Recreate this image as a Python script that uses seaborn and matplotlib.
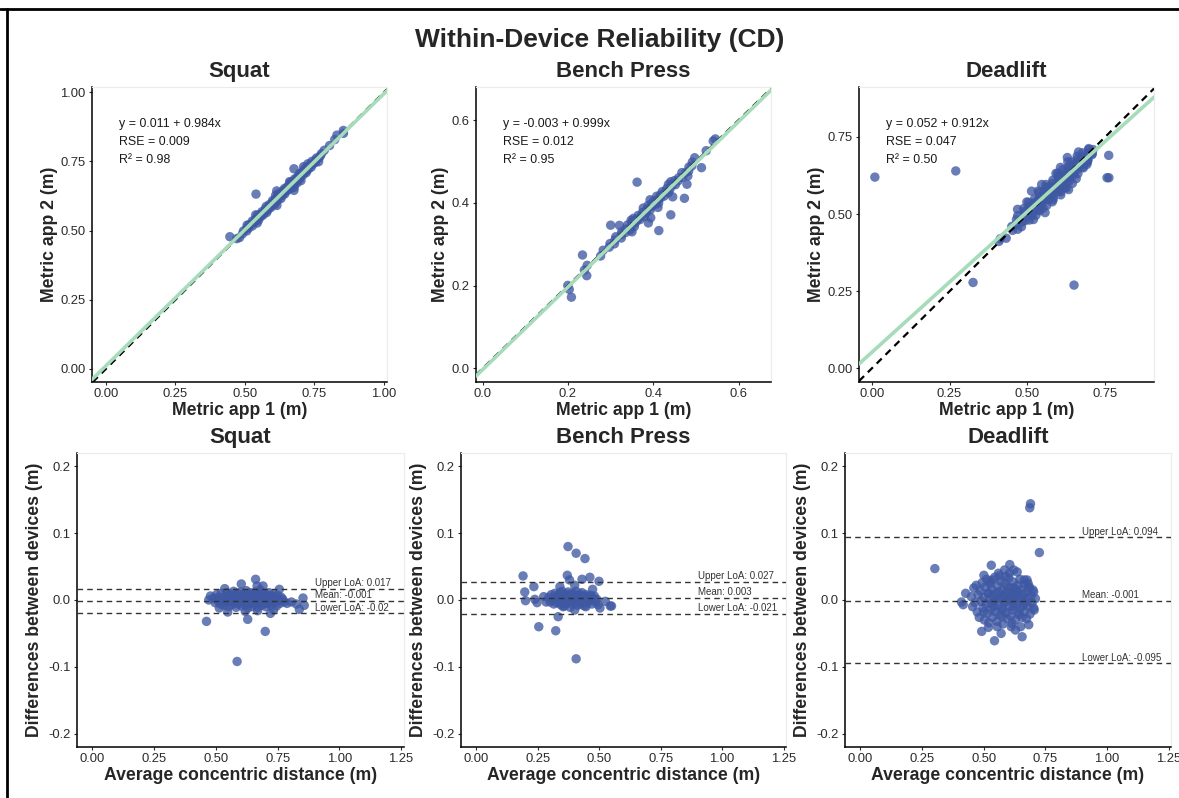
import matplotlib
matplotlib.use("Agg")
import matplotlib.pyplot as plt
from matplotlib.lines import Line2D
import seaborn as sns
import pandas as pd

exercises = ["Squat", "Bench Press", "Deadlift"]

# Bland-Altman coordinates:
# avg = (app1 + app2) / 2, diff = app1 - app2
squat_avg = [
    0.462, 0.471, 0.478, 0.514, 0.536, 0.548, 0.586, 0.603, 0.619, 0.629,
    0.661, 0.667, 0.669, 0.691, 0.700, 0.721, 0.734, 0.757, 0.788, 0.806,
    0.826, 0.838, 0.853, 0.858,
    0.490, 0.497, 0.503, 0.508, 0.512, 0.518, 0.522, 0.526, 0.531, 0.535,
    0.540, 0.544, 0.547, 0.551, 0.554, 0.558, 0.561, 0.565, 0.568, 0.572,
    0.575, 0.578, 0.582, 0.585, 0.588, 0.591, 0.594, 0.598, 0.601, 0.604,
    0.607, 0.610, 0.613, 0.616, 0.620, 0.623, 0.626, 0.629, 0.632, 0.635,
    0.638, 0.641, 0.644, 0.647, 0.650, 0.653, 0.656, 0.659, 0.662, 0.665,
    0.668, 0.671, 0.674, 0.677, 0.680, 0.683, 0.686, 0.689, 0.692, 0.695,
    0.698, 0.702, 0.705, 0.708, 0.712, 0.715, 0.719, 0.722, 0.726, 0.730,
    0.734, 0.738, 0.742, 0.746, 0.750, 0.755, 0.760, 0.765, 0.771, 0.777,
    0.560, 0.580, 0.600, 0.615, 0.625, 0.640, 0.655, 0.665, 0.675, 0.685,
    0.695, 0.705, 0.715, 0.630, 0.645, 0.590, 0.610, 0.670, 0.700, 0.720,
]
squat_diff = [
    -0.032, 0.000, 0.006, -0.012, 0.017, -0.018, -0.092, 0.024, -0.017, -0.029,
    0.031, 0.021, -0.016, 0.021, -0.047, -0.020, -0.015, 0.016, -0.005, -0.003,
    -0.006, -0.014, 0.003, -0.008,
    0.003, -0.004, 0.008, -0.001, 0.004, -0.006, 0.010, 0.001, -0.008, 0.005,
    -0.003, 0.011, 0.002, -0.010, 0.006, -0.002, 0.009, -0.007, 0.003, 0.013,
    -0.004, 0.007, -0.011, 0.001, 0.010, -0.006, 0.004, -0.001, 0.012, -0.009,
    0.006, -0.003, 0.009, 0.000, -0.007, 0.014, 0.003, -0.012, 0.007, -0.002,
    0.011, -0.005, 0.004, -0.010, 0.008, 0.001, -0.006, 0.012, -0.002, 0.006,
    -0.011, 0.009, 0.002, -0.004, 0.015, -0.008, 0.005, -0.001, 0.010, -0.006,
    0.003, -0.010, 0.008, 0.000, -0.005, 0.011, 0.002, -0.008, 0.006, -0.002,
    0.009, -0.004, 0.004, -0.009, 0.007, 0.000, -0.005, 0.004, 0.001, -0.003,
    0.002, 0.004, 0.001, 0.005, -0.004, 0.002, 0.004, -0.003, 0.007, 0.001,
    0.004, -0.003, 0.003, 0.001, -0.001, 0.003, -0.001, 0.000, 0.002, 0.005,
]

bench_avg = [
    0.373, 0.406, 0.442, 0.190, 0.370, 0.462, 0.499, 0.430, 0.379, 0.234,
    0.197, 0.200, 0.238, 0.247, 0.274, 0.284, 0.254, 0.323, 0.333, 0.406,
    0.525, 0.545, 0.550, 0.503, 0.473, 0.340, 0.400, 0.400, 0.353, 0.446,
    0.295, 0.300, 0.305, 0.310, 0.315, 0.320, 0.324, 0.328, 0.332, 0.336,
    0.340, 0.343, 0.346, 0.349, 0.352, 0.355, 0.358, 0.361, 0.364, 0.367,
    0.370, 0.373, 0.376, 0.379, 0.382, 0.385, 0.388, 0.391, 0.394, 0.397,
    0.400, 0.403, 0.406, 0.409, 0.412, 0.415, 0.418, 0.421, 0.424, 0.427,
    0.430, 0.433, 0.436, 0.440, 0.444, 0.448, 0.452, 0.456, 0.460, 0.465,
    0.470, 0.475, 0.480, 0.485, 0.490, 0.495, 0.360, 0.380, 0.395, 0.410,
]
bench_diff = [
    0.080, 0.070, 0.062, 0.036, 0.037, 0.034, 0.028, 0.031, 0.030, 0.020,
    0.012, -0.001, 0.001, -0.004, 0.005, -0.003, -0.040, -0.046, -0.025, -0.088,
    -0.002, -0.009, -0.009, -0.012, 0.016, 0.020, 0.022, -0.015, -0.010, -0.010,
    0.004, -0.003, 0.008, 0.000, -0.006, 0.010, 0.002, -0.004, 0.007, -0.001,
    0.011, -0.007, 0.004, 0.013, -0.003, 0.006, -0.009, 0.002, 0.009, -0.005,
    0.003, 0.012, -0.002, 0.007, -0.011, 0.001, 0.010, -0.006, 0.004, -0.001,
    0.008, -0.004, 0.013, 0.002, -0.008, 0.005, -0.002, 0.009, -0.006, 0.003,
    0.011, -0.003, 0.006, -0.009, 0.002, 0.008, -0.004, 0.005, -0.001, 0.007,
    -0.006, 0.003, 0.006, -0.003, 0.001, -0.007, 0.004, 0.005, 0.003, 0.004,
]

deadlift_avg = [
    0.315, 0.455, 0.460, 0.690, 0.687, 0.726, 0.302, 0.531, 0.606, 0.636,
    0.622, 0.501, 0.427, 0.410, 0.417, 0.676, 0.680, 0.703, 0.703, 0.492,
    0.519, 0.544, 0.571, 0.656, 0.683, 0.629, 0.650, 0.612, 0.560, 0.590,
    0.450, 0.455, 0.460, 0.465, 0.470, 0.474, 0.478, 0.482, 0.486, 0.490,
    0.494, 0.497, 0.500, 0.503, 0.506, 0.509, 0.512, 0.515, 0.518, 0.521,
    0.524, 0.527, 0.530, 0.533, 0.536, 0.539, 0.542, 0.545, 0.548, 0.551,
    0.554, 0.557, 0.560, 0.563, 0.566, 0.569, 0.572, 0.575, 0.578, 0.581,
    0.584, 0.587, 0.590, 0.593, 0.596, 0.599, 0.602, 0.605, 0.608, 0.611,
    0.614, 0.617, 0.620, 0.623, 0.626, 0.629, 0.632, 0.635, 0.638, 0.641,
    0.644, 0.647, 0.650, 0.653, 0.656, 0.659, 0.662, 0.665, 0.668, 0.671,
    0.674, 0.677, 0.680, 0.684, 0.688, 0.692, 0.696, 0.700, 0.705, 0.710,
    0.520, 0.540, 0.560, 0.580, 0.600, 0.620, 0.640, 0.660, 0.530, 0.550,
    0.570, 0.590, 0.610, 0.630, 0.650, 0.670, 0.500, 0.525, 0.565, 0.615,
    0.575, 0.595, 0.625, 0.645, 0.665, 0.685, 0.555, 0.585, 0.605, 0.535,
]
deadlift_diff = [
    -0.610, -0.370, 0.380, 0.144, 0.138, 0.071, 0.047, 0.052, 0.053, 0.042,
    0.045, 0.037, 0.010, -0.003, -0.007, 0.030, 0.025, 0.012, -0.012, -0.047,
    -0.041, -0.061, -0.050, -0.055, -0.037, -0.045, -0.040, -0.040, 0.040, 0.035,
    0.005, -0.010, 0.018, -0.004, 0.022, -0.018, 0.008, -0.026, 0.014, -0.002,
    0.026, -0.012, 0.004, -0.030, 0.019, -0.006, 0.031, -0.020, 0.010, -0.034,
    0.002, 0.024, -0.014, 0.016, -0.026, 0.006, -0.003, 0.034, -0.018, 0.011,
    -0.032, 0.021, -0.008, 0.003, -0.022, 0.028, -0.012, 0.015, -0.036, 0.007,
    -0.004, 0.025, -0.019, 0.012, -0.028, 0.002, 0.033, -0.010, 0.019, -0.024,
    0.006, -0.015, 0.027, -0.002, 0.014, -0.030, 0.009, -0.007, 0.022, -0.019,
    0.003, 0.031, -0.012, 0.016, -0.026, 0.008, -0.003, 0.024, -0.017, 0.011,
    -0.028, 0.004, -0.009, 0.018, -0.021, 0.006, -0.004, 0.015, -0.015, 0.002,
    0.010, -0.010, 0.012, -0.015, 0.008, -0.010, 0.012, -0.008, -0.005, 0.002,
    0.004, -0.002, 0.000, 0.005, 0.001, -0.004, -0.018, 0.028, 0.036, -0.035,
    -0.025, 0.020, 0.018, -0.022, 0.030, 0.020, -0.040, 0.045, 0.040, 0.030,
]

# linear fit printed in the top panels
fit_intercept = [0.011, -0.003, 0.052]
fit_slope = [0.984, 0.999, 0.912]
fit_rse = ["0.009", "0.012", "0.047"]
fit_r2 = ["0.98", "0.95", "0.50"]

# bias and limits of agreement printed in the lower panels
loa_mean = [-0.001, 0.003, -0.001]
loa_upper = [0.017, 0.027, 0.094]
loa_lower = [-0.02, -0.021, -0.095]

sns.set_theme(style="ticks")
plt.rcParams["font.family"] = ["Liberation Sans", "DejaVu Sans"]
plt.rcParams["axes.unicode_minus"] = False

point_color = "#3f58a3"
fit_color = "#a6dcb9"
tick_color = "#2b2b2b"

frames = []
for name, avg, diff in zip(exercises,
                           [squat_avg, bench_avg, deadlift_avg],
                           [squat_diff, bench_diff, deadlift_diff]):
    assert len(avg) == len(diff)
    df = pd.DataFrame({"avg": avg, "diff": diff})
    df["app1"] = df["avg"] + df["diff"] / 2
    df["app2"] = df["avg"] - df["diff"] / 2
    df["exercise"] = name
    frames.append(df)
data = pd.concat(frames, ignore_index=True)

W, H = 1179, 798
fig = plt.figure(figsize=(W / 100, H / 100), dpi=100)


def px_axes(left, top, right, bottom):
    return fig.add_axes([left / W, 1 - bottom / H, (right - left) / W, (bottom - top) / H])


def style_axes(ax):
    for side in ["left", "bottom"]:
        ax.spines[side].set_color("black")
        ax.spines[side].set_linewidth(1.1)
    for side in ["top", "right"]:
        ax.spines[side].set_visible(True)
        ax.spines[side].set_color("#ebebeb")
        ax.spines[side].set_linewidth(0.8)
    ax.tick_params(axis="both", labelsize=9.4, labelcolor=tick_color, color=tick_color,
                   length=2.5, width=0.8, pad=2)
    ax.set_facecolor("white")


top_boxes = [(92, 87, 387, 382), (476, 87, 771, 382), (859, 87, 1154, 382)]
top_xlim = [(-0.0497, 1.011), (-0.0157, 0.676), (-0.041, 0.907)]
top_ylim = [(-0.047, 1.019), (-0.033, 0.680), (-0.044, 0.912)]
top_ticks = [[0, 0.25, 0.5, 0.75, 1.0], [0, 0.2, 0.4, 0.6], [0, 0.25, 0.5, 0.75]]
top_fmt = ["{:.2f}", "{:.1f}", "{:.2f}"]

for i, name in enumerate(exercises):
    ax = px_axes(*top_boxes[i])
    sub = data[data["exercise"] == name]
    sns.scatterplot(data=sub, x="app1", y="app2", ax=ax, color=point_color,
                    alpha=0.78, s=46, edgecolor="none", zorder=2)
    ax.axline((0, 0), slope=1, color="black", lw=1.6, ls=(0, (3.2, 2.4)), zorder=3)
    ax.axline((0, fit_intercept[i]), slope=fit_slope[i], color=fit_color, lw=2.6, zorder=4)
    ax.set_xlim(*top_xlim[i])
    ax.set_ylim(*top_ylim[i])
    ax.set_xticks(top_ticks[i])
    ax.set_yticks(top_ticks[i])
    ax.set_xticklabels([top_fmt[i].format(t) for t in top_ticks[i]])
    ax.set_yticklabels([top_fmt[i].format(t) for t in top_ticks[i]])
    style_axes(ax)
    ax.set_title(name, fontsize=16, fontweight="bold", pad=7)
    ax.set_xlabel("Metric app 1 (m)", fontsize=12.7, fontweight="bold", labelpad=1)
    ax.set_ylabel("Metric app 2 (m)", fontsize=12.7, fontweight="bold", labelpad=2)
    lines = [f"y = {fit_intercept[i]:.3f} + {fit_slope[i]:.3f}x",
             f"RSE = {fit_rse[i]}",
             f"R\u00b2 = {fit_r2[i]}"]
    for k, txt in enumerate(lines):
        ax.text(0.09, 0.875 - k * 0.061, txt, transform=ax.transAxes, fontsize=8.9,
                color="#1a1a1a", va="center", ha="left", zorder=5)

ba_boxes = [(77, 453, 403.5, 747), (461, 453, 786, 747), (845, 453, 1171, 747)]
ba_xticks = [0, 0.25, 0.5, 0.75, 1.0, 1.25]
ba_yticks = [-0.2, -0.1, 0.0, 0.1, 0.2]

for i, name in enumerate(exercises):
    ax = px_axes(*ba_boxes[i])
    sub = data[data["exercise"] == name]
    sns.scatterplot(data=sub, x="avg", y="diff", ax=ax, color=point_color,
                    alpha=0.78, s=46, edgecolor="none", zorder=2)
    ax.set_xlim(-0.0625, 1.26)
    ax.set_ylim(-0.22, 0.22)
    labels = [f"Upper LoA: {loa_upper[i]}", f"Mean: {loa_mean[i]}", f"Lower LoA: {loa_lower[i]}"]
    for val, lab in zip([loa_upper[i], loa_mean[i], loa_lower[i]], labels):
        ax.axhline(val, color="#333333", lw=1.0, ls=(0, (4, 3)), zorder=3)
        ax.annotate(lab, xy=(0.9, val), xytext=(0, 4), textcoords="offset points",
                    fontsize=7, color="#333333", ha="left", va="center", zorder=4)
    ax.set_xticks(ba_xticks)
    ax.set_xticklabels([f"{t:.2f}" for t in ba_xticks])
    ax.set_yticks(ba_yticks)
    ax.set_yticklabels([f"{t:.1f}" for t in ba_yticks])
    style_axes(ax)
    ax.set_title(name, fontsize=16, fontweight="bold", pad=7)
    ax.set_xlabel("Average concentric distance (m)", fontsize=12.7, fontweight="bold", labelpad=1)
    ax.set_ylabel("Differences between devices (m)", fontsize=12.7, fontweight="bold", labelpad=4)

fig.text(600 / W, 1 - 40 / H, "Within-Device Reliability (CD)", ha="center", va="center",
         fontsize=19, fontweight="bold")

# black frame on the top and left edge
fig.add_artist(Line2D([0, 1], [1 - 9 / H, 1 - 9 / H], transform=fig.transFigure,
                      color="black", lw=2))
fig.add_artist(Line2D([7 / W, 7 / W], [0, 1 - 9 / H], transform=fig.transFigure,
                      color="black", lw=2))

fig.savefig("out.png", dpi=100)
print("saved out.png")
